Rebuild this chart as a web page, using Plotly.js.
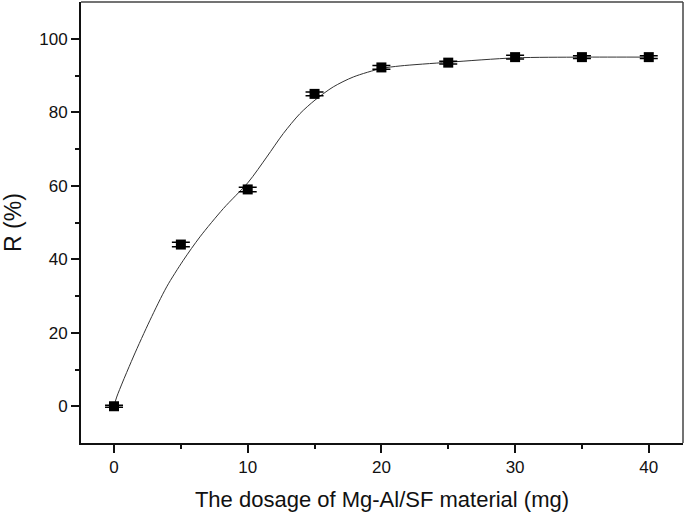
<!DOCTYPE html>
<html>
<head>
<meta charset="utf-8">
<script src="https://cdn.plot.ly/plotly-3.0.1.min.js"></script>
<style>html,body{margin:0;padding:0;background:#fff;}#chart{width:685px;height:518px;}</style>
</head>
<body>
<div id="chart"></div>
<script>
var dosage = [0, 5, 10, 15, 20, 25, 30, 35, 40];
var removal = [0, 44, 59, 85, 92.2, 93.5, 95, 95, 95];
var errors = [0.3, 0.6, 0.6, 0.5, 0.5, 0.4, 0.5, 0.4, 0.4];
// smooth fitted curve
var fitX = [0, 0.2, 1.44, 2.69, 3.94, 5.18, 6.43, 8.18, 10.05, 11.42, 12.66, 13.9, 15.03, 16.4, 17.9, 20.0, 21.4, 25, 30, 35, 40];
var fitY = [0, 2.5, 13.4, 23.4, 32.5, 39.7, 46.1, 53.8, 61.0, 67.8, 74.2, 79.6, 83.3, 86.9, 89.6, 91.9, 92.6, 93.6, 94.8, 95.0, 95.0];
var xTitle = 'The dosage of Mg-Al/SF material (mg)';
var yTitle = 'R (%)';

var fontFam = 'Liberation Sans, Arial, sans-serif';

var curve = {
  x: fitX, y: fitY, mode: 'lines', type: 'scatter',
  line: {shape: 'spline', smoothing: 0.8, color: '#333', width: 1},
  hoverinfo: 'skip', showlegend: false
};
var pts = {
  x: dosage, y: removal, mode: 'markers', type: 'scatter',
  marker: {symbol: 'square', size: 10, color: '#000'},
  error_y: {type: 'data', array: errors, visible: true, color: '#000', thickness: 1.5, width: 9},
  showlegend: false
};

var layout = {
  width: 685, height: 518,
  margin: {l: 81, r: 2, t: 2, b: 75},
  paper_bgcolor: '#fff', plot_bgcolor: '#fff',
  font: {family: fontFam, color: '#111', size: 17},
  xaxis: {
    range: [-2.47, 42.56], tickvals: [0, 10, 20, 30, 40], showgrid: false, zeroline: false,
    showline: true, linewidth: 2, linecolor: '#111', ticks: 'outside', ticklen: 8, tickwidth: 2, tickcolor: '#111',
    minor: {tickvals: [5, 15, 25, 35], ticklen: 4, tickwidth: 2, tickcolor: '#111', ticks: 'outside', showgrid: false},
    tickfont: {size: 17}, title: {text: xTitle, font: {size: 22}, standoff: 15}
  },
  yaxis: {
    range: [-10, 110], tickvals: [0, 20, 40, 60, 80, 100], showgrid: false, zeroline: false,
    showline: true, linewidth: 2, linecolor: '#111', ticks: 'outside', ticklen: 8, tickwidth: 2, tickcolor: '#111',
    minor: {tickvals: [10, 30, 50, 70, 90], ticklen: 4, tickwidth: 2, tickcolor: '#111', ticks: 'outside', showgrid: false},
    tickfont: {size: 17}, title: {text: yTitle, font: {size: 23}, standoff: 12}
  },
  shapes: [
    {type: 'line', xref: 'paper', yref: 'paper', x0: 0, x1: 1, y0: 1, y1: 1, line: {color: '#444', width: 1.5}},
    {type: 'line', xref: 'paper', yref: 'paper', x0: 1, x1: 1, y0: 0, y1: 1, line: {color: '#444', width: 1.5}}
  ]
};

Plotly.newPlot('chart', [curve, pts], layout, {displayModeBar: false, staticPlot: true});
</script>
</body>
</html>
